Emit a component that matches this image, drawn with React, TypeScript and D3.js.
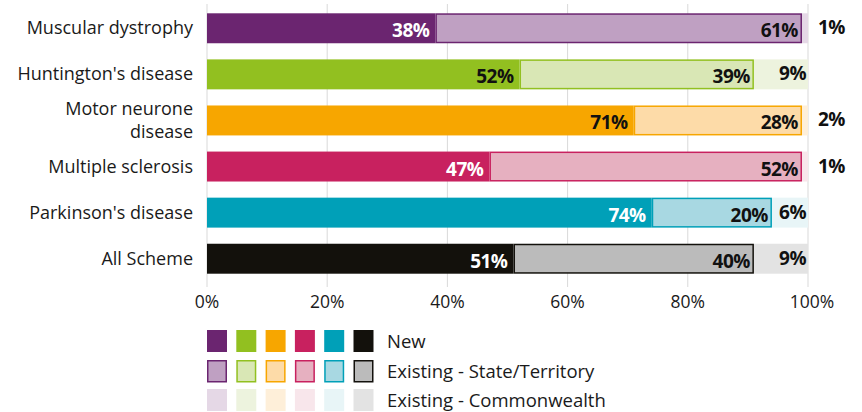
import React, { useEffect, useRef } from "react";
import * as d3 from "d3";

const categories = [
  "Muscular dystrophy",
  "Huntington's disease",
  "Motor neurone disease",
  "Multiple sclerosis",
  "Parkinson's disease",
  "All Scheme",
];
const newVals = [38, 52, 71, 47, 74, 51];
const stateVals = [61, 39, 28, 52, 20, 40];
const cwVals = [1, 9, 2, 1, 6, 9];

const newColors = ["#6b2570", "#92c020", "#f7a600", "#c8215f", "#00a0b8", "#13110c"];
const stateColors = ["#bfa0c2", "#d9e7b5", "#fddba8", "#e6b0c0", "#a8d8e2", "#bbbbbb"];
const cwColors = ["#e5d8e6", "#edf3de", "#feefd9", "#f8e6eb", "#e8f5f7", "#e3e3e3"];
const newLabelColors = ["#fff", "#111", "#111", "#fff", "#fff", "#fff"];

const ticks = [0, 20, 40, 60, 80, 100];
const legendLabels = ["New", "Existing - State/Territory", "Existing - Commonwealth"];

const FONT = "'Open Sans', 'Noto Sans', sans-serif";

export default function App() {
  const ref = useRef<SVGSVGElement>(null);

  useEffect(() => {
    const svg = d3.select(ref.current);
    svg.selectAll("*").remove();

    const x = d3.scaleLinear().domain([0, 100]).range([207, 808]).clamp(true);
    const y = d3.scaleBand().domain(categories).range([5, 282]).paddingInner(0.35).paddingOuter(0.18);

    // gridlines
    svg.append("g")
      .selectAll("line")
      .data(ticks)
      .enter()
      .append("line")
      .attr("x1", d => x(d)).attr("x2", d => x(d))
      .attr("y1", 4).attr("y2", 287)
      .attr("stroke", "#d9d9d9")
      .attr("stroke-width", 1);

    // tick labels
    svg.append("g")
      .selectAll("text")
      .data(ticks)
      .enter()
      .append("text")
      .attr("x", d => x(d) + (d === 100 ? 4 : 0))
      .attr("y", 301)
      .attr("dominant-baseline", "central")
      .attr("text-anchor", "middle")
      .style("font-family", FONT)
      .style("font-size", "17.5px")
      .attr("fill", "#1a1a1a")
      .text(d => d + "%");

    const rows = svg.append("g")
      .selectAll("g")
      .data(categories)
      .enter()
      .append("g");

    const bh = y.bandwidth();

    // new
    rows.append("rect")
      .attr("x", x(0))
      .attr("y", d => y(d)!)
      .attr("width", (d, i) => x(newVals[i]) - x(0))
      .attr("height", bh)
      .attr("fill", (d, i) => newColors[i]);

    // commonwealth
    rows.append("rect")
      .attr("x", (d, i) => x(newVals[i] + stateVals[i]))
      .attr("y", d => y(d)!)
      .attr("width", (d, i) => x(newVals[i] + stateVals[i] + cwVals[i]) - x(newVals[i] + stateVals[i]))
      .attr("height", bh)
      .attr("fill", (d, i) => cwColors[i]);

    // state
    rows.append("rect")
      .attr("x", (d, i) => x(newVals[i]) + 0.75)
      .attr("y", d => y(d)! + 0.75)
      .attr("width", (d, i) => x(newVals[i] + stateVals[i]) - x(newVals[i]) - 1.5)
      .attr("height", bh - 1.5)
      .attr("fill", (d, i) => stateColors[i])
      .attr("stroke", (d, i) => newColors[i])
      .attr("stroke-width", 1.5);

    const labelStyle = (sel: any) =>
      sel.style("font-family", FONT)
        .style("font-size", "19px")
        .style("font-weight", "bold")
        .style("letter-spacing", "-0.5px")
        .attr("dominant-baseline", "central");

    rows.append("text")
      .attr("x", (d, i) => x(newVals[i]) - 6)
      .attr("y", d => y(d)! + bh / 2 + 2)
      .attr("text-anchor", "end")
      .attr("fill", (d, i) => newLabelColors[i])
      .call(labelStyle)
      .text((d, i) => newVals[i] + "%");

    rows.append("text")
      .attr("x", (d, i) => x(newVals[i] + stateVals[i]) - 4)
      .attr("y", d => y(d)! + bh / 2 + 2)
      .attr("text-anchor", "end")
      .attr("fill", "#111")
      .call(labelStyle)
      .text((d, i) => stateVals[i] + "%");

    rows.append("text")
      .attr("x", (d, i) => (cwVals[i] < 3 ? x(100) + 10 : x(100) - 2))
      .attr("y", d => y(d)! + bh / 2 - 1)
      .attr("text-anchor", (d, i) => (cwVals[i] < 3 ? "start" : "end"))
      .attr("fill", "#111")
      .call(labelStyle)
      .text((d, i) => cwVals[i] + "%");

    // category labels
    rows.each(function (d) {
      const g = d3.select(this);
      const cy = y(d)! + bh / 2;
      const lines = d === "Motor neurone disease" ? ["Motor neurone", "disease"] : [d];
      lines.forEach((ln, j) => {
        g.append("text")
          .attr("x", 193)
          .attr("y", cy + (j - (lines.length - 1) / 2) * 23 - 1)
          .attr("text-anchor", "end")
          .attr("dominant-baseline", "central")
          .style("font-family", FONT)
          .style("font-size", "18px")
          .attr("fill", "#1a1a1a")
          .text(ln);
      });
    });

    // legend
    const sq = 20;
    const gap = 9.3;
    const legendY = [330, 360, 389];
    const legend = svg.append("g");
    legendLabels.forEach((lab, r) => {
      const cols = r === 0 ? newColors : r === 1 ? stateColors : cwColors;
      cols.forEach((c, i) => {
        const rx = 207 + i * (sq + gap);
        if (r === 1) {
          legend.append("rect")
            .attr("x", rx + 0.75).attr("y", legendY[r] + 0.75)
            .attr("width", sq - 1.5).attr("height", sq + 1)
            .attr("fill", c)
            .attr("stroke", newColors[i])
            .attr("stroke-width", 1.5);
        } else {
          legend.append("rect")
            .attr("x", rx).attr("y", legendY[r])
            .attr("width", sq).attr("height", sq + 2)
            .attr("fill", c);
        }
      });
      legend.append("text")
        .attr("x", 387)
        .attr("y", legendY[r] + 10)
        .attr("dominant-baseline", "central")
        .style("font-family", FONT)
        .style("font-size", "18.5px")
        .attr("fill", "#1a1a1a")
        .text(lab);
    });
  }, []);

  return (
    <svg
      ref={ref}
      width={862}
      height={412}
      style={{ display: "block", position: "absolute", left: 0, top: 0 }}
    ></svg>
  );
}
